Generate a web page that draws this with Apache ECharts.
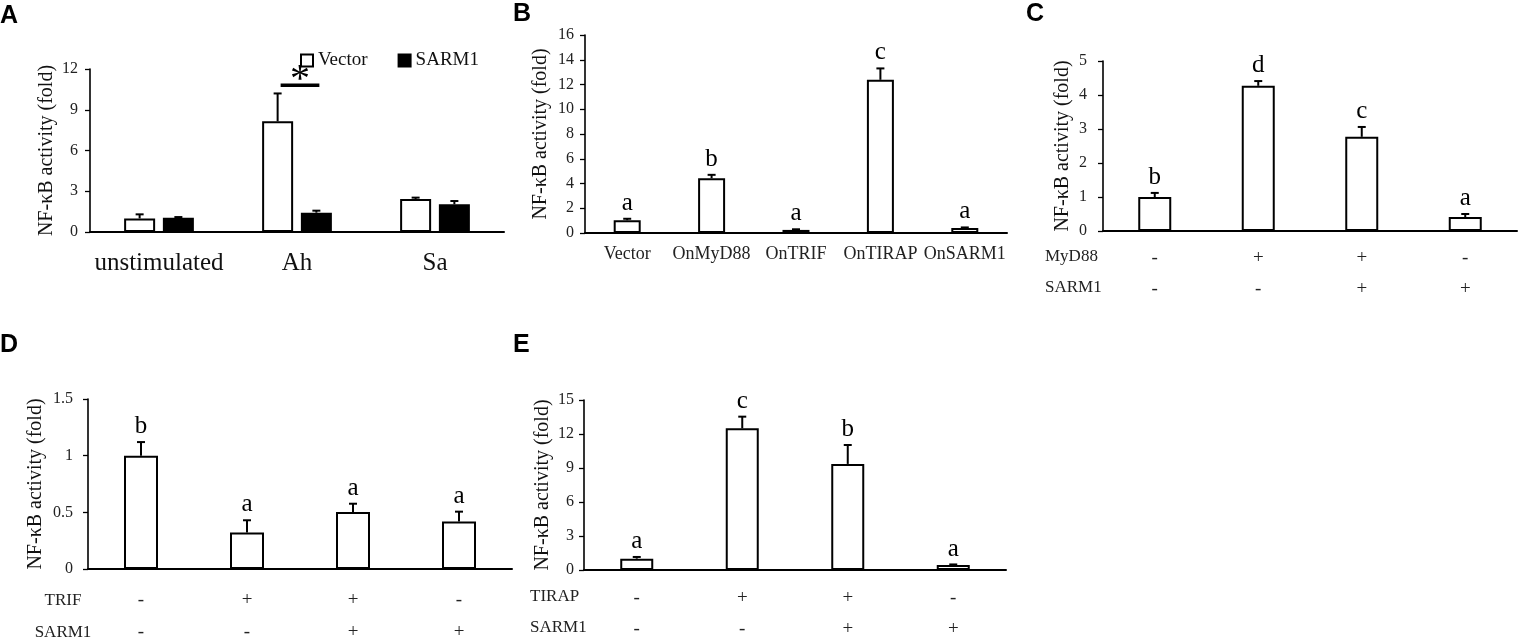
<!DOCTYPE html>
<html><head><meta charset="utf-8">
<script src="https://cdn.jsdelivr.net/npm/echarts@6/dist/echarts.min.js"></script>
<style>html,body{margin:0;padding:0;background:#fff;overflow:hidden}#c{width:1518px;height:638px}</style>
</head><body><div id="c"></div>
<script>
// ---------- DATA ----------
const catsA = ['unstimulated', 'Ah', 'Sa'];
const vectorA = [1.0, 8.15, 2.43];
const vectorErrA = [0.3, 2.05, 0.1];
const sarmA = [1.05, 1.42, 2.04];
const sarmErrA = [0.05, 0.15, 0.24];
const sigA = { index: 1, level: 10.8, mark: '*' };
const ticksA = { max: 12, interval: 3 };

const catsB = ['Vector', 'OnMyD88', 'OnTRIF', 'OnTIRAP', 'OnSARM1'];
const valsB = [1.03, 4.43, 0.25, 12.38, 0.4];
const errB = [0.12, 0.27, 0.05, 0.92, 0.05];
const lettersB = ['a', 'b', 'a', 'c', 'a'];
const ticksB = { max: 16, interval: 2 };

const rowNamesC = ['MyD88', 'SARM1'];
const row1C = ['-', '+', '+', '-'];
const row2C = ['-', '-', '+', '+'];
const valsC = [1.0, 4.27, 2.77, 0.41];
const errC = [0.12, 0.14, 0.29, 0.09];
const lettersC = ['b', 'd', 'c', 'a'];
const ticksC = { max: 5, interval: 1 };

const rowNamesD = ['TRIF', 'SARM1'];
const row1D = ['-', '+', '+', '-'];
const row2D = ['-', '-', '+', '+'];
const valsD = [1.0, 0.323, 0.503, 0.42];
const errD = [0.12, 0.107, 0.073, 0.086];
const lettersD = ['b', 'a', 'a', 'a'];
const ticksD = { max: 1.5, interval: 0.5 };

const rowNamesE = ['TIRAP', 'SARM1'];
const row1E = ['-', '+', '+', '-'];
const row2E = ['-', '-', '+', '+'];
const valsE = [1.0, 12.5, 9.36, 0.44];
const errE = [0.15, 1.03, 1.67, 0.05];
const lettersE = ['a', 'c', 'b', 'a'];
const ticksE = { max: 15, interval: 3 };

const yTitle = 'NF-\u03BAB activity (fold)';
const panelLetters = ['A', 'B', 'C', 'D', 'E'];

// ---------- STYLE / LAYOUT ----------
const SERIF = 'Liberation Serif, Times New Roman, serif';
const grids = [
  { left: 90, top: 69, width: 414, height: 163 },
  { left: 585, top: 35, width: 422, height: 198 },
  { left: 1103, top: 61, width: 414, height: 170 },
  { left: 88, top: 399, width: 424, height: 170 },
  { left: 584, top: 400, width: 422, height: 170 }
];
const nameGaps = [33, 34, 30, 42, 31];
const tickMargins = [12, 11, 16, 15, 10];
const yScales = [ticksA, ticksB, ticksC, ticksD, ticksE];

function combine(r1, r2) { return r1.map((v, i) => v + '\n' + r2[i]); }
const xCats = [catsA, catsB, combine(row1C, row2C), combine(row1D, row2D), combine(row1E, row2E)];
const xLabelStyles = [
  { fontSize: 25, margin: 19, color: '#111' },
  { fontSize: 18, margin: 12, color: '#222' },
  { fontSize: 19, margin: 12, lineHeight: 31, color: '#222' },
  { fontSize: 19, margin: 15, lineHeight: 32, color: '#222' },
  { fontSize: 19, margin: 13, lineHeight: 31, color: '#222' }
];

const xAxes = xCats.map((cats, i) => ({
  type: 'category', gridIndex: i, data: cats,
  axisLine: { lineStyle: { color: '#000', width: 2 } },
  axisTick: { show: false },
  axisLabel: Object.assign({ fontFamily: SERIF, interval: 0 }, xLabelStyles[i])
}));
const yAxes = yScales.map((s, i) => ({
  type: 'value', gridIndex: i, min: 0, max: s.max, interval: s.interval,
  axisLine: { show: true, lineStyle: { color: '#000', width: 1.6 } },
  axisTick: { show: true, length: 5, lineStyle: { color: '#000', width: 1.3 } },
  splitLine: { show: false },
  axisLabel: { fontFamily: SERIF, fontSize: 16, color: '#222', margin: tickMargins[i] },
  name: yTitle, nameLocation: 'middle', nameGap: nameGaps[i],
  nameTextStyle: { fontFamily: SERIF, fontSize: 20, color: '#111' }
}));

const whiteBar = { color: '#fff', borderColor: '#000', borderWidth: 2 };
const blackBar = { color: '#000', borderColor: '#000', borderWidth: 2 };

function errSeries(gi, vals, errs, letters, offsetPx, letterSize) {
  return {
    type: 'custom', xAxisIndex: gi, yAxisIndex: gi, z: 5,
    data: vals.map((v, i) => [i, v, errs[i]]),
    renderItem: function (params, api) {
      const idx = api.value(0);
      const v = api.value(1), e = api.value(2);
      const p0 = api.coord([idx, v]);
      const p1 = api.coord([idx, v + e]);
      const x = p0[0] + offsetPx;
      const ch = [
        { type: 'line', shape: { x1: x, y1: p0[1], x2: x, y2: p1[1] }, style: { stroke: '#000', lineWidth: 2 } },
        { type: 'line', shape: { x1: x - 4, y1: p1[1], x2: x + 4, y2: p1[1] }, style: { stroke: '#000', lineWidth: 2 } }
      ];
      if (letters) {
        ch.push({ type: 'text', x: x, y: p1[1] - 3,
          style: { text: letters[params.dataIndex], fontFamily: SERIF, fontSize: letterSize, fill: '#000',
                   textAlign: 'center', textVerticalAlign: 'bottom' } });
      }
      return { type: 'group', children: ch };
    }
  };
}

const barWA = 31, gapA = 0.25;
const offA = (barWA + barWA * gapA) / 2;

const series = [
  { name: 'Vector', type: 'bar', xAxisIndex: 0, yAxisIndex: 0, data: vectorA, barWidth: barWA, barGap: (gapA * 100) + '%', itemStyle: whiteBar },
  { name: 'SARM1', type: 'bar', xAxisIndex: 0, yAxisIndex: 0, data: sarmA, barWidth: barWA, itemStyle: blackBar },
  errSeries(0, vectorA, vectorErrA, null, -offA),
  errSeries(0, sarmA, sarmErrA, null, offA),
  {
    type: 'custom', xAxisIndex: 0, yAxisIndex: 0, z: 6,
    data: [[sigA.index, sigA.level]],
    renderItem: function (params, api) {
      const p = api.coord([api.value(0), api.value(1)]);
      return { type: 'group', children: [
        { type: 'line', shape: { x1: p[0] - offA + 3, y1: p[1], x2: p[0] + offA + 3, y2: p[1] }, style: { stroke: '#000', lineWidth: 3.5 } },
        { type: 'text', x: p[0] + 3, y: p[1] + 15, style: { text: sigA.mark, fontFamily: SERIF, fontSize: 40, fill: '#000', textAlign: 'center', textVerticalAlign: 'bottom' } }
      ] };
    }
  },
  { type: 'bar', xAxisIndex: 1, yAxisIndex: 1, data: valsB, barWidth: 27, itemStyle: whiteBar },
  errSeries(1, valsB, errB, lettersB, 0, 25),
  { type: 'bar', xAxisIndex: 2, yAxisIndex: 2, data: valsC, barWidth: 33, itemStyle: whiteBar },
  errSeries(2, valsC, errC, lettersC, 0, 25),
  { type: 'bar', xAxisIndex: 3, yAxisIndex: 3, data: valsD, barWidth: 34, itemStyle: whiteBar },
  errSeries(3, valsD, errD, lettersD, 0, 25),
  { type: 'bar', xAxisIndex: 4, yAxisIndex: 4, data: valsE, barWidth: 33, itemStyle: whiteBar },
  errSeries(4, valsE, errE, lettersE, 0, 25)
];

// panel letters and row names (text only)
const panelPos = [[0, 4], [513, 2], [1026, 2], [0, 333], [513, 333]];
const graphics = panelLetters.map((t, i) => ({
  type: 'text', left: panelPos[i][0], top: panelPos[i][1],
  style: { text: t, fontFamily: 'Liberation Sans, Arial, sans-serif', fontWeight: 'bold', fontSize: 25, fill: '#000' }
}));
function rowLabels(names, x, y0, dy, align) {
  return names.map((n, i) => ({
    type: 'text', x: x, y: y0 + i * dy,
    style: { text: n, fontFamily: SERIF, fontSize: 17, fill: '#222', textAlign: align, textVerticalAlign: 'middle' }
  }));
}
graphics.push(...rowLabels(rowNamesC, 1045, 257, 31, 'left'));
graphics.push(...rowLabels(rowNamesD, 63, 601, 32, 'center'));
graphics.push(...rowLabels(rowNamesE, 530, 597, 31, 'left'));

const chart = echarts.init(document.getElementById('c'), null, { renderer: 'canvas' });
chart.setOption({
  animation: false,
  backgroundColor: '#fff',
  grid: grids.map(g => Object.assign({ containLabel: false, outerBoundsMode: 'none' }, g)),
  xAxis: xAxes,
  yAxis: yAxes,
  legend: {
    data: ['Vector', 'SARM1'], left: 295, top: 46, icon: 'rect', itemWidth: 12, itemHeight: 12, itemGap: 30,
    textStyle: { fontFamily: SERIF, fontSize: 19, color: '#111' }
  },
  series: series,
  graphic: graphics
});
</script>
</body></html>
